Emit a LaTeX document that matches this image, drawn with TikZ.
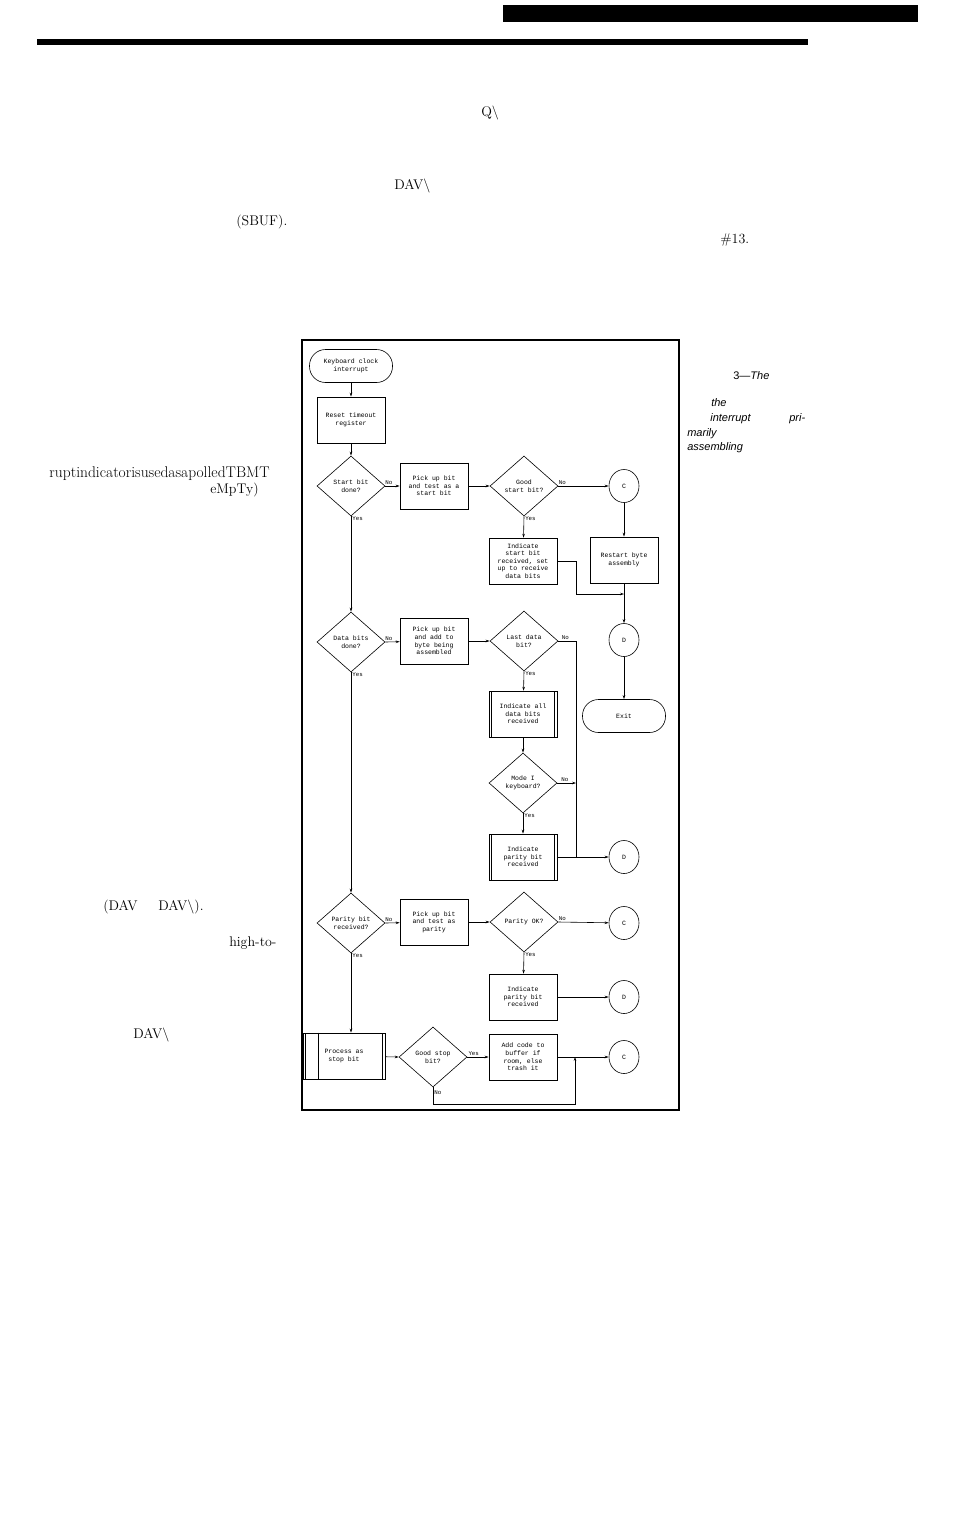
\documentclass[tikz,border=0pt]{standalone}
\usepackage{fontspec}
\setmonofont{Liberation Mono}
\setsansfont{Liberation Sans}
\usetikzlibrary{shapes.geometric,arrows.meta,positioning,calc}

\begin{document}
\begin{tikzpicture}[x=1pt,y=-1pt,>={Stealth[length=4pt,width=2.6pt]},line width=0.6pt,
  font=\ttfamily\fontsize{6.5}{7.6}\selectfont,
  blk/.style={draw,minimum width=68pt,minimum height=46pt,align=center,inner sep=1pt},
  dec/.style={draw,diamond,minimum width=68pt,minimum height=60pt,inner sep=0pt,align=center},
  term/.style={draw,rounded corners=16pt,minimum width=83pt,minimum height=33pt,align=center},
  con/.style={draw,ellipse,minimum width=30pt,minimum height=33pt,inner sep=0pt},
  pre/.style={blk,path picture={
    \draw ([xshift=2.5pt]path picture bounding box.north west)--([xshift=2.5pt]path picture bounding box.south west);
    \draw ([xshift=-2.5pt]path picture bounding box.north east)--([xshift=-2.5pt]path picture bounding box.south east);}},
  lbl/.style={font=\ttfamily\fontsize{5.8}{6.5}\selectfont,inner sep=1pt},
  page/.style={font=\rmfamily\fontsize{14}{16}\selectfont,inner sep=0pt},
  captxt/.style={font=\sffamily\itshape\fontsize{11}{13}\selectfont,inner sep=0pt,anchor=west}]
  \useasboundingbox (0,0) rectangle (953,1533);
  % page rules
  \fill (503,5) rectangle (918,22);
  \fill (37,39) rectangle (808,45);
  % stray body text
  \node[page,anchor=west](q1) at (481,113){Q\textbackslash};
  \node[page,anchor=west](dav1) at (394,186){DAV\textbackslash};
  \node[page,anchor=west](sbuf) at (236,222){(SBUF).};
  \node[page,anchor=west](ref13) at (720,240){\#13.};
  \node[page,anchor=east,font=\rmfamily\fontsize{15.5}{17}\selectfont](rupt) at (270,474){ruptindicatorisusedasapolledTBMT};
  \node[page,anchor=west](empty) at (210,490){eMpTy)};
  \node[page,anchor=west](dav2) at (103,907){(DAV};
  \node[page,anchor=west](dav3) at (158,907){DAV\textbackslash).};
  \node[page,anchor=west](hight) at (229,943){high-to-};
  \node[page,anchor=west](dav4) at (133,1035){DAV\textbackslash};
  % caption
  \node[captxt](c1) at (733,376){{\upshape 3}---The};
  \node[captxt](c2) at (711,403){the};
  \node[captxt](c3) at (710,419){interrupt};
  \node[captxt](c4) at (789,419){pri-};
  \node[captxt](c5) at (687,434){marily};
  \node[captxt](c6) at (687,448){assembling};
  % flowchart
  \draw[line width=1.8pt] (302,340) rectangle (679,1110);
  \node[term](kbd) at (351,366){Keyboard clock\\interrupt};
  \node[blk](reset) at (351,420){Reset timeout\\register};
  \node[dec](startq) at (351,486){Start bit\\done?};
  \node[blk](pick1) at (434,486){Pick up bit\\and test as a\\start bit};
  \draw[line width=1.2pt] (pick1.north east)--(pick1.south east)--(pick1.south west);
  \node[dec](goodq) at (524,486){Good\\start bit?};
  \node[con](c1a) at (624,486){C};
  \node[blk](indstart) at (523,561){Indicate\\start bit\\received, set\\up to receive\\data bits};
  \node[blk](restart) at (624,560){Restart byte\\assembly};
  \coordinate(j1) at (624,594);
  \node[con](d1) at (624,640){D};
  \node[term](exit) at (624,716){Exit};
  \node[dec](dataq) at (351,642){Data bits\\done?};
  \node[blk](pick2) at (434,641){Pick up bit\\and add to\\byte being\\assembled};
  \node[dec](lastq) at (524,641){Last data\\bit?};
  \node[pre](inddata) at (523,714){Indicate all\\data bits\\received};
  \node[dec](modeq) at (523,783){Mode I\\keyboard?};
  \node[pre](indpar1) at (523,857){Indicate\\parity bit\\received};
  \coordinate(j2) at (576,857);
  \node[con](d2) at (624,857){D};
  \node[dec](parq) at (351,923){Parity bit\\received?};
  \node[blk](pick3) at (434,922){Pick up bit\\and test as\\parity};
  \node[dec](parok) at (524,922){Parity OK?};
  \node[con](c2a) at (624,923){C};
  \node[blk](indpar2) at (523,997){Indicate\\parity bit\\received};
  \node[con](d3) at (624,997){D};
  \node[pre,minimum width=82pt](stopbit) at (344,1056){Process as\\stop bit};
  \draw ($(stopbit.north west)+(16,0)$)--($(stopbit.south west)+(16,0)$);
  \node[dec](stopq) at (433,1057){Good stop\\bit?};
  \node[blk](addcode) at (523,1057){Add code to\\buffer if\\room, else\\trash it};
  \coordinate(j3) at (575,1057);
  \node[con](c3a) at (624,1057){C};
  % connectors
  \draw[->](kbd)--(reset);
  \draw[->](reset)--(startq);
  \draw[->](startq.east)--node[lbl,pos=0.25,above]{No}(pick1);
  \draw[->](pick1)--(goodq.west);
  \draw[->](goodq.east)--node[lbl,pos=0.08,above]{No}(c1a);
  \draw[->](goodq.south)--node[lbl,pos=0.1,right]{Yes}(indstart);
  \draw[->](c1a)--(restart);
  \draw[->](indstart.east)--++(19,0)|-(j1);
  \draw[->](restart)--(d1);
  \draw[->](d1)--(exit);
  \draw[->](startq.south)--node[lbl,pos=0.02,right]{Yes}(dataq.north);
  \draw[->](dataq.east)--node[lbl,pos=0.25,above]{No}(pick2);
  \draw[->](pick2)--(lastq.west);
  \draw(lastq.east)--node[lbl,pos=0.4,above]{No}(lastq.east-|j2)--(j2);
  \draw[->](lastq.south)--node[lbl,pos=0.1,right]{Yes}(inddata);
  \draw[->](inddata)--(modeq);
  \draw[->](modeq.east)--node[lbl,pos=0.4,above]{No}(modeq.east-|j2);
  \draw[->](modeq.south)--node[lbl,pos=0.1,right]{Yes}(indpar1);
  \draw[->](indpar1)--(d2);
  \draw[->](dataq.south)--node[lbl,pos=0.01,right]{Yes}(parq.north);
  \draw[->](parq.east)--node[lbl,pos=0.25,above]{No}(pick3);
  \draw[->](pick3)--(parok.west);
  \draw[->](parok.east)--node[lbl,pos=0.08,above]{No}(c2a);
  \draw[->](parok.south)--node[lbl,pos=0.1,right]{Yes}(indpar2);
  \draw[->](indpar2)--(d3);
  \draw[->](parq.south)--node[lbl,pos=0.03,right]{Yes}(parq.south|-stopbit.north);
  \draw[->](stopbit)--(stopq.west);
  \draw[->](stopq.east)--node[lbl,pos=0.3,above]{Yes}(addcode);
  \draw[->](addcode)--(c3a);
  \draw[->](stopq.south)--node[lbl,pos=0.3,right]{No}++(0,17)-|(j3);
\end{tikzpicture}
\end{document}
